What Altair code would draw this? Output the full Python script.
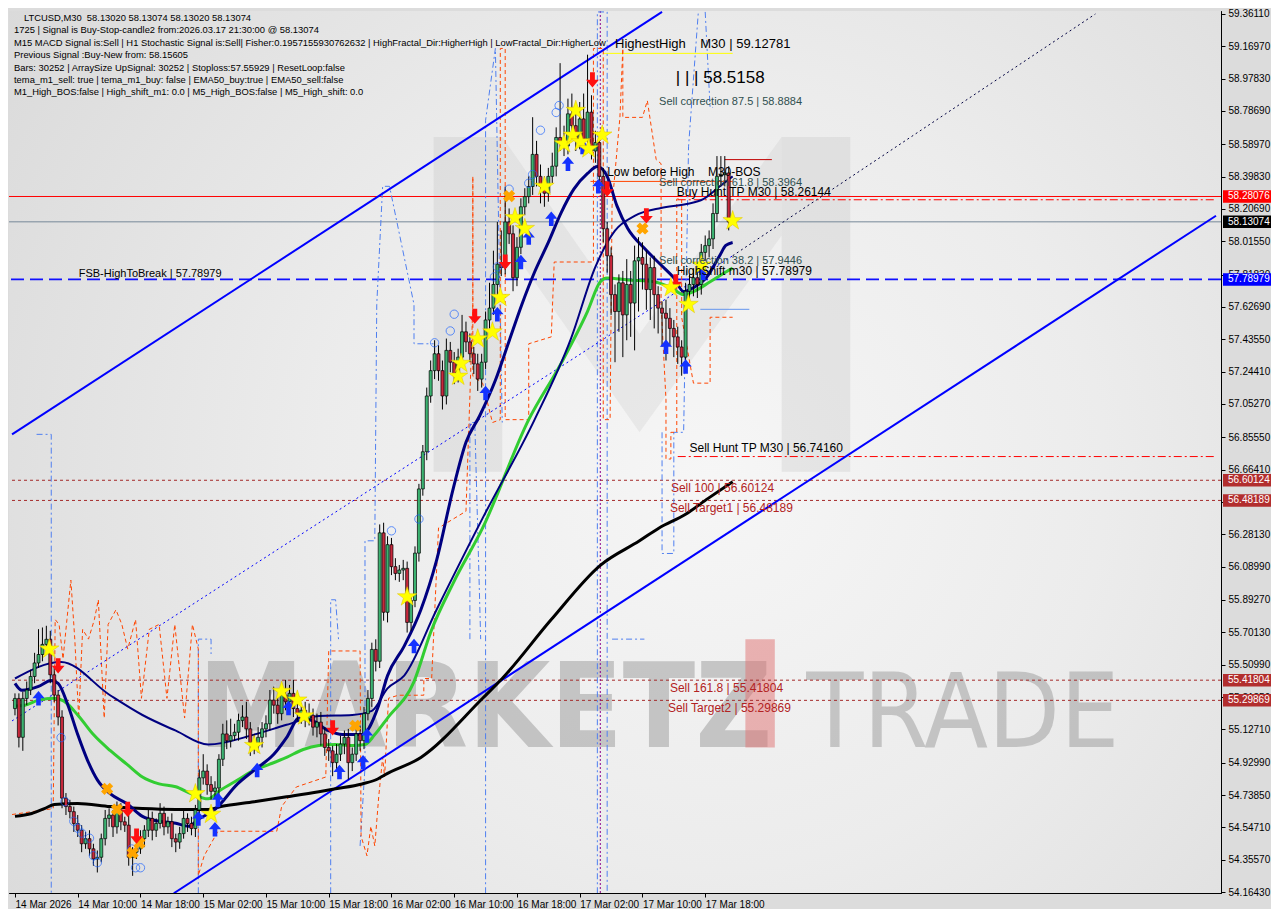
import altair as alt
import pandas as pd
import numpy as np

W, H = 1212, 882
T0 = pd.Timestamp("2026-03-14 02:00:00")
X_DOM = [alt.DateTime(year=2026, month=3, date=14, hours=1, minutes=52, seconds=30),
         alt.DateTime(year=2026, month=3, date=20, hours=11, minutes=7, seconds=30)]
Y_DOM = [54.1585, 59.3786]

# ---------------- candles (M30 bars from 14 Mar 02:00) ----------------
closes = [
    55.31, 55.08, 55.31, 55.36, 55.44, 55.52, 55.57, 55.63, 55.66, 55.45,
    55.33, 55.20, 54.72, 54.67, 54.64, 54.57, 54.53, 54.45, 54.48, 54.42,
    54.36, 54.37, 54.48, 54.60, 54.62, 54.55, 54.65, 54.58, 54.56, 54.37,
    54.40, 54.42, 54.48, 54.53, 54.60, 54.53, 54.57, 54.63, 54.55, 54.58,
    54.48, 54.46, 54.51, 54.60, 54.57, 54.54, 54.65, 54.84, 54.88, 54.80,
    54.76, 54.78, 54.95, 55.10, 55.06, 55.09, 55.11, 55.18, 55.20, 55.13,
    55.05, 55.03, 55.08, 55.13, 55.16, 55.30, 55.27, 55.22, 55.33, 55.29,
    55.34, 55.25, 55.22, 55.24, 55.19, 55.21, 55.14, 55.17, 55.10, 55.02,
    55.00, 54.93, 54.98, 55.04, 55.08, 54.93, 54.98, 55.10, 55.06, 55.22,
    55.31, 55.60, 55.53, 56.29, 55.82, 56.22, 56.09, 56.05, 56.07, 56.08,
    55.76, 55.89, 56.17, 56.55, 56.77, 57.10, 57.25, 57.35, 57.25, 57.10,
    57.37, 57.30, 57.22, 57.33, 57.48, 57.42, 57.35, 57.29, 57.20, 57.30,
    57.55, 57.62, 57.76, 57.88, 57.86, 58.13, 58.06, 57.80, 57.98, 58.22,
    58.28, 58.34, 58.53, 58.40, 58.34, 58.30, 58.40, 58.46, 58.63, 58.60,
    58.58, 58.77, 58.70, 58.62, 58.74, 58.62, 58.78, 58.55, 58.60, 58.40,
    58.09, 57.93, 57.70, 57.60, 57.77, 57.58, 57.76, 57.65, 57.90, 57.92,
    57.88, 57.73, 57.86, 57.70, 57.62, 57.59, 57.56, 57.50, 57.45, 57.39,
    57.33, 57.72, 57.76, 57.80, 57.76, 57.95, 57.99, 58.03, 58.18, 58.40,
    58.41, 58.42, 58.13,
]
first_open = 55.25
wick_up = [
    0.03, 0.03, 0.04, 0.05, 0.04, 0.06, 0.15, 0.10, 0.08, 0.05,
    0.04, 0.03, 0.04, 0.03, 0.04, 0.03, 0.05, 0.03, 0.04, 0.05,
    0.03, 0.04, 0.03, 0.05, 0.04, 0.03, 0.05, 0.04, 0.03, 0.06,
    0.03, 0.04, 0.05, 0.03, 0.05, 0.04, 0.03, 0.06, 0.04, 0.03,
    0.05, 0.03, 0.04, 0.05, 0.03, 0.04, 0.03, 0.05, 0.10, 0.04,
    0.05, 0.04, 0.03, 0.06, 0.08, 0.10, 0.05, 0.04, 0.07, 0.09,
    0.04, 0.05, 0.06, 0.04, 0.05, 0.06, 0.08, 0.05, 0.07, 0.09,
    0.05, 0.08, 0.06, 0.04, 0.05, 0.07, 0.04, 0.05, 0.06, 0.04,
    0.05, 0.03, 0.06, 0.05, 0.04, 0.05, 0.04, 0.06, 0.05, 0.04,
    0.05, 0.04, 0.06, 0.05, 0.06, 0.05, 0.04, 0.05, 0.03, 0.05,
    0.04, 0.03, 0.04, 0.03, 0.04, 0.05, 0.06, 0.08, 0.05, 0.06,
    0.07, 0.05, 0.06, 0.05, 0.10, 0.06, 0.05, 0.04, 0.06, 0.05,
    0.05, 0.15, 0.20, 0.25, 0.20, 0.21, 0.08, 0.05, 0.06, 0.05,
    0.05, 0.06, 0.22, 0.08, 0.07, 0.06, 0.05, 0.08, 0.06, 0.44,
    0.10, 0.09, 0.12, 0.08, 0.10, 0.15, 0.34, 0.10, 0.07, 0.06,
    0.05, 0.04, 0.05, 0.06, 0.05, 0.07, 0.15, 0.08, 0.09, 0.12,
    0.09, 0.08, 0.06, 0.07, 0.05, 0.04, 0.08, 0.06, 0.05, 0.06,
    0.04, 0.05, 0.06, 0.05, 0.07, 0.05, 0.06, 0.05, 0.06, 0.12,
    0.11, 0.10, 0.04,
]
wick_down = [
    0.04, 0.06, 0.08, 0.04, 0.03, 0.04, 0.03, 0.04, 0.03, 0.05,
    0.04, 0.05, 0.06, 0.05, 0.04, 0.05, 0.04, 0.05, 0.03, 0.04,
    0.04, 0.08, 0.03, 0.04, 0.05, 0.06, 0.04, 0.05, 0.04, 0.05,
    0.11, 0.04, 0.03, 0.05, 0.04, 0.06, 0.04, 0.03, 0.05, 0.04,
    0.05, 0.06, 0.04, 0.03, 0.05, 0.04, 0.05, 0.03, 0.04, 0.06,
    0.05, 0.04, 0.06, 0.04, 0.05, 0.04, 0.03, 0.05, 0.04, 0.06,
    0.08, 0.05, 0.04, 0.06, 0.05, 0.04, 0.05, 0.06, 0.04, 0.05,
    0.06, 0.05, 0.04, 0.06, 0.05, 0.04, 0.05, 0.06, 0.07, 0.05,
    0.06, 0.08, 0.05, 0.04, 0.06, 0.10, 0.05, 0.04, 0.06, 0.05,
    0.04, 0.05, 0.06, 0.04, 0.05, 0.06, 0.05, 0.04, 0.05, 0.06,
    0.06, 0.05, 0.04, 0.05, 0.04, 0.05, 0.04, 0.05, 0.06, 0.08,
    0.05, 0.06, 0.05, 0.04, 0.05, 0.06, 0.05, 0.06, 0.07, 0.05,
    0.04, 0.05, 0.04, 0.06, 0.05, 0.04, 0.06, 0.08, 0.05, 0.04,
    0.05, 0.04, 0.05, 0.06, 0.10, 0.08, 0.05, 0.04, 0.06, 0.05,
    0.06, 0.05, 0.08, 0.07, 0.06, 0.05, 0.06, 0.05, 0.07, 0.06,
    0.08, 0.10, 0.12, 0.30, 0.12, 0.25, 0.15, 0.20, 0.28, 0.30,
    0.15, 0.12, 0.18, 0.20, 0.15, 0.20, 0.25, 0.10, 0.12, 0.10,
    0.11, 0.06, 0.05, 0.07, 0.08, 0.06, 0.05, 0.07, 0.06, 0.05,
    0.06, 0.07, 0.05,
]

# ---------------- moving averages: (bar index, price) ----------------
ema_fast_k = [0, 1.75, 6, 9.25, 11, 13.5, 16, 18.5, 21, 24.25, 28.5, 32.5, 36.75, 41, 44.25, 46.75, 51,
              56.75, 61, 66, 69.25, 72.5, 76, 80, 83.5, 88.5, 92.5, 95, 99.25, 103.5, 107.5, 111.75,
              115, 118.5, 122.5, 126, 129.25, 132.5, 136, 139.25, 142.5, 146, 148.5, 151, 153.5,
              156.25, 160.5, 164.75, 168, 170.5, 173, 176.25, 179.75, 181.25, 183]
ema_fast_p = [55.399, 55.358, 55.381, 55.416, 55.399, 55.270, 55.096, 54.944, 54.828, 54.746, 54.688,
              54.612, 54.583, 54.571, 54.553, 54.594, 54.653, 54.804, 54.886, 54.979, 55.078, 55.194,
              55.177, 55.119, 55.096, 55.096, 55.253, 55.445, 55.620, 55.835, 56.127, 56.552, 56.826,
              56.983, 57.193, 57.426, 57.642, 57.834, 58.009, 58.184, 58.324, 58.417, 58.458, 58.400,
              58.225, 58.091, 57.974, 57.875, 57.799, 57.718, 57.741, 57.799, 57.933, 57.991, 58.009]
ema_slow_k = [0, 11.75, 24.25, 32.5, 41, 49.25, 61, 69.25, 77.5, 86, 91, 95, 99.25, 107.5, 119.25,
              132.5, 141.75, 148, 153, 158, 164.75, 171.25, 175.5, 179.75, 183]
ema_slow_p = [55.428, 55.526, 55.329, 55.212, 55.119, 55.037, 55.096, 55.154, 55.206, 55.212, 55.236,
              55.370, 55.445, 55.835, 56.377, 56.960, 57.438, 57.864, 58.079, 58.166, 58.213, 58.236,
              58.265, 58.341, 58.400]
ema_green_k = [0, 2.5, 6, 10, 12.5, 16, 20, 24.25, 28.5, 32.5, 36.75, 41, 45, 49.25, 52.5, 56.75, 61,
               65, 69.25, 73.5, 77.5, 81.75, 86, 89.25, 91.75, 95, 101.75, 106, 111.75, 119.25, 131,
               139.25, 146, 149.25, 151, 156.25, 163, 167.25, 170.5, 173, 177.25, 181.25, 183]
ema_green_p = [55.265, 55.270, 55.300, 55.311, 55.294, 55.212, 55.096, 55.002, 54.921, 54.845, 54.804,
               54.787, 54.746, 54.716, 54.769, 54.827, 54.886, 54.921, 54.961, 55.008, 55.031, 55.037,
               55.031, 55.037, 55.096, 55.194, 55.410, 55.702, 55.993, 56.319, 56.960, 57.293, 57.601,
               57.776, 57.799, 57.787, 57.776, 57.741, 57.700, 57.718, 57.776, 57.834, 57.857]
ema_black_k = [0, 4.25, 7.5, 10, 16, 24.25, 32.5, 41, 49.25, 52.5, 61, 69.25, 77.5, 81.75, 88.5, 92.5,
               94.25, 103.5, 119.25, 124.25, 136.75, 149.25, 159.25, 164.25, 171, 176.75, 183]
ema_black_p = [54.612, 54.629, 54.658, 54.682, 54.688, 54.670, 54.658, 54.653, 54.653, 54.670, 54.699,
               54.728, 54.758, 54.775, 54.804, 54.833, 54.857, 54.961, 55.311, 55.428, 55.777, 56.098,
               56.243, 56.319, 56.400, 56.494, 56.593]

# ---------------- channel ----------------
chan_up_k, chan_up_p = [-0.75, 165.0], [56.873, 59.373]
chan_lo_k, chan_lo_p = [40.5, 306.25], [54.157, 58.167]
mid_blue_k, mid_blue_p = [-0.75, 183.0], [55.177, 57.930]
mid_dark_k, mid_dark_p = [183.0, 275.5], [57.930, 59.361]

# ---------------- level lines ----------------
lvl_red = 58.28076
lvl_last = 58.13074
lvl_blue = 57.78979
lvl_buy_hunt = 58.26144
lvl_sell_hunt = 56.74160
lvl_brown = [56.60124, 56.48189, 55.41804, 55.29869]
highest_high = 59.12781
low_before_high = 58.370
bos_level = 58.499
shift_box = 57.613

# ---------------- indicator step lines ----------------
orange_k = [-0.75, 9.75, 10.25, 11.25, 12.25, 13.25, 14.25, 15.25, 16.25, 17.25, 18.75, 20.25, 21.25,
            22.75, 23.75, 25.75, 27.25, 28.75, 30.75, 32.25, 34.25, 36.75, 38.75, 40.75, 43.25, 45.25,
            46.75, 46.75, 48.25, 51.75, 66.75, 68, 71.75, 79.25, 80, 88, 88.25, 89.75, 90.75, 91.75,
            92.75, 93.75, 94.25, 95.25, 97.75, 104.25, 104.25, 106.25, 108, 115, 116, 116.75, 116.75,
            116.75, 119.25, 121.75, 123.75, 123.75, 125, 125, 131, 131, 136.75, 137.5, 147.5, 147.5,
            150, 150, 151.75, 152.25, 154.25, 155, 155, 160, 161.25, 163.5, 164.75, 164.75, 166, 166,
            167.25, 167.25, 168.75, 168.75, 170, 170, 173, 177.25, 177.25, 183]
orange_p = [54.623, 54.658, 55.777, 55.748, 55.544, 55.777, 56.010, 55.661, 55.194, 55.719, 55.661,
            55.777, 55.894, 55.194, 55.748, 55.835, 55.748, 55.602, 55.777, 55.311, 55.719, 55.748,
            55.311, 55.748, 55.194, 55.748, 55.602, 54.262, 54.379, 54.524, 54.524, 54.670, 54.786,
            54.845, 55.591, 55.591, 54.495, 54.379, 54.553, 54.437, 54.728, 54.961, 54.845, 55.311,
            55.329, 55.329, 55.428, 55.428, 56.319, 56.418, 57.100, 57.642, 58.400, 57.217, 57.176,
            56.943, 56.960, 59.157, 59.157, 56.960, 56.960, 57.409, 57.450, 57.893, 57.893, 59.157,
            59.157, 56.960, 56.960, 58.225, 58.749, 59.157, 58.749, 58.749, 58.848, 58.499, 58.475,
            57.642, 57.077, 56.727, 56.727, 56.885, 56.885, 58.266, 58.266, 57.566, 57.176, 57.176,
            57.566, 57.566]
blue_seg = [1, 1, 1, 2, 2, 2, 2, 3, 3, 3, 3, 4, 4, 4, 4, 4, 4, 4, 4, 4, 4, 5, 5, 5, 5, 6, 6, 6, 6,
            7, 7, 7, 7, 8, 8, 9, 9, 9, 9, 9, 9, 9, 10, 10, 10]
blue_k = [5.5, 9.25, 9.25, 46.75, 46.75, 50, 50, 80.5, 80.5, 81.75, 82.5, 88, 89.25, 89.25, 91.75,
          92.25, 93.75, 95.5, 101.75, 101.75, 106.75, 116, 116, 117.25, 118.75, 120, 120, 122.5,
          124.25, 148.5, 148.5, 151, 151, 152.25, 160.5, 165, 165, 168, 168, 170.5, 171.75, 174.25,
          176, 177.25, 178]
blue_p = [56.873, 56.873, 54.157, 54.157, 55.661, 55.661, 55.573, 54.157, 55.894, 55.894, 55.661,
          54.437, 54.903, 56.243, 56.243, 57.642, 58.341, 58.341, 57.642, 57.409, 57.409, 55.661,
          56.943, 56.943, 55.661, 54.157, 58.732, 59.157, 56.943, 54.157, 59.373, 59.373, 54.157,
          55.661, 55.661, 56.885, 56.168, 56.168, 56.885, 56.885, 58.575, 59.373, 59.373, 58.808,
          58.808]
session_k = 149.25

# ---------------- signal markers ----------------
star_k = [8.75, 46, 50, 61, 68, 72, 73.75, 100, 113, 113.75, 118, 121.75, 123.75, 127.5, 130, 135,
          140, 142.25, 143, 144.25, 146.25, 149.75, 167.25, 171.75, 175, 183]
star_p = [55.602, 54.746, 54.624, 55.031, 55.352, 55.300, 55.206, 55.911, 57.217, 57.293, 57.438,
          57.479, 57.683, 58.155, 58.091, 58.341, 58.592, 58.644, 58.790, 58.604, 58.563, 58.644,
          57.741, 57.642, 57.875, 58.137]
up_k = [6, 46.75, 51, 51.75, 61.75, 69.75, 82.75, 88.75, 89.75, 101.75, 120, 123, 129, 131, 136.75,
        141, 144.75, 148.75, 166, 171, 175.5]
up_p = [55.311, 54.600, 54.536, 54.711, 54.886, 55.253, 54.874, 54.932, 55.090, 55.620, 57.118,
        57.584, 57.893, 58.038, 58.149, 58.475, 58.574, 58.341, 57.391, 57.275, 57.829]
down_k = [11, 28.75, 31, 81, 117.25, 125, 147.25, 151, 161, 168.5]
down_p = [55.503, 54.653, 54.495, 55.136, 57.572, 57.893, 58.971, 58.324, 58.166, 57.776]
cross_k = [23.5, 26, 30, 31.75, 86.75, 126, 160]
cross_p = [54.775, 54.653, 54.396, 54.454, 55.148, 58.283, 58.091]
circle_k = [11.75, 12.75, 15, 16, 17, 19, 20, 21, 29.75, 30.75, 32, 96, 103, 107, 111, 112, 122.25,
            123, 126, 131, 132, 134, 138, 138.75]
circle_p = [55.078, 54.699, 54.583, 54.542, 54.513, 54.483, 54.379, 54.338, 54.419, 54.308, 54.308,
            56.302, 56.372, 57.415, 57.485, 57.584, 57.805, 57.864, 58.324, 58.359, 58.411, 58.673,
            58.778, 58.819]

# ---------------- background logo (bar index / price of its corners) ----------------
logo_leg_k = [[106.75, 124.25], [195.5, 213.0]]
logo_leg_p = [56.651, 58.633]
logo_v_k = [124.25, 159.25, 195.5]
logo_v_top = [58.633, 57.467, 58.633]
logo_v_bot = [58.050, 56.885, 58.050]

# ---------------- texts ----------------
NB = "\u00a0"
info_lines = [
    "LTCUSD,M30  58.13020 58.13074 58.13020 58.13074",
    "1725 | Signal is Buy-Stop-candle2 from:2026.03.17 21:30:00 @ 58.13074",
    "M15 MACD Signal is:Sell | H1 Stochastic Signal is:Sell| Fisher:0.1957155930762632 | HighFractal_Dir:HigherHigh | LowFractal_Dir:HigherLow",
    "Previous Signal :Buy-New from: 58.15605",
    "Bars: 30252 | ArraySize UpSignal: 30252 | Stoploss:57.55929 | ResetLoop:false",
    "tema_m1_sell: true | tema_m1_buy: false | EMA50_buy:true | EMA50_sell:false",
    "M1_High_BOS:false | High_shift_m1: 0.0 | M5_High_BOS:false | M5_High_shift: 0.0",
]
ann_text = ["HighestHigh" + NB * 4 + "M30 | 59.12781",
            "|" + NB + "|" + NB + "| 58.5158",
            "Sell correction 87.5 | 58.8884",
            "Low before High" + NB * 4 + "M30-BOS",
            "Sell correction 61.8 | 58.3964", "Buy Hunt TP M30 | 58.26144",
            "Sell correction 38.2 | 57.9446", "HighShift m30 | 57.78979", "FSB-HighToBreak | 57.78979",
            "Sell Hunt TP M30 | 56.74160", "Sell 100 | 56.60124", "Sell Target1 | 56.48189",
            "Sell 161.8 | 55.41804", "Sell Target2 | 55.29869"]
ann_k = [153, 168.5, 164.25, 151, 164.25, 168.75, 164.25, 168.75, 16.25, 172, 167.25, 167, 167, 166.5]
ann_p = [59.157, 58.953, 58.825, 58.400, 58.341, 58.283, 57.881, 57.817, 57.805, 56.768, 56.529, 56.412,
         55.346, 55.230]
ann_size = [13, 17, 11, 12, 11, 12, 11, 12, 11, 12, 12, 12, 12, 12]
ann_color = ["#000000", "#000000", "#2f4f4f", "#000000", "#2f4f4f", "#000000", "#2f4f4f", "#000000",
             "#000000", "#000000", "#b22222", "#b22222", "#b22222", "#b22222"]

tag_p = [58.28076, 58.13074, 57.78979, 56.60124, 56.48189, 55.41804, 55.29869]
tag_bg = ["#ff0000", "#000000", "#0000ff", "#b22e2e", "#b22e2e", "#b22e2e", "#b22e2e"]

y_ticks = [59.36110, 59.16970, 58.97830, 58.78690, 58.58970, 58.39830, 58.20690, 58.01550, 57.81830,
           57.62690, 57.43550, 57.24410, 57.05270, 56.85550, 56.66410, 56.47270, 56.28130, 56.08990,
           55.89270, 55.70130, 55.50990, 55.31850, 55.12710, 54.92990, 54.73850, 54.54710, 54.35570,
           54.16430]

FONT = "Liberation Sans"


def kt(k):
    return T0 + pd.to_timedelta(np.asarray(k, dtype=float) * 30, unit="m")


x_ticks = [alt.DateTime(year=2026, month=3, date=14, hours=2)] + [
    alt.DateTime(year=2026, month=3, date=d, hours=h)
    for d, h in [(14, 10), (14, 18), (15, 2), (15, 10), (15, 18), (16, 2), (16, 10), (16, 18),
                 (17, 2), (17, 10), (17, 18)]
]

xaxis = alt.Axis(values=x_ticks, orient="bottom",
                 labelExpr="datum.value < datetime(2026,2,14,5) ? '14 Mar 2026' : timeFormat(datum.value, '%d %b %H:%M')",
                 labelAlign="left", labelFont=FONT, labelFontSize=10, labelColor="#000000",
                 tickSize=4, tickColor="#000000", domainColor="#000000", labelPadding=2,
                 grid=False, title=None, labelOverlap=False, labelFlush=False)
yaxis = alt.Axis(values=y_ticks, format=".5f", orient="right", labelFont=FONT, labelFontSize=10,
                 labelColor="#000000", tickSize=4, tickColor="#000000", domainColor="#000000",
                 grid=False, title=None, labelOverlap=False, labelPadding=3, labelFlush=False)


def X(field="t"):
    return alt.X(f"{field}:T", scale=alt.Scale(domain=X_DOM), axis=xaxis, title=None)


def Y(field="p"):
    return alt.Y(f"{field}:Q", scale=alt.Scale(domain=Y_DOM), axis=yaxis, title=None)


# ---- data frames ----
n = len(closes)
opens = [first_open] + closes[:-1]
highs = [max(o, c) + u for o, c, u in zip(opens, closes, wick_up)]
lows = [min(o, c) - d for o, c, d in zip(opens, closes, wick_down)]
cdf = pd.DataFrame({"t": kt(range(n)), "o": opens, "c": closes, "h": highs, "l": lows})
up_bars = cdf[cdf["c"] >= cdf["o"]]
down_bars = cdf[cdf["c"] < cdf["o"]]


def line_df(ks, ps, seg=None):
    d = pd.DataFrame({"t": kt(ks), "p": ps, "i": range(len(ks))})
    d["seg"] = seg if seg is not None else 0
    return d


layers = []

# soft radial background of the chart window
bg_grad = alt.Gradient(gradient="radial", x1=0.58, y1=0.52, x2=0.58, y2=0.52, r1=0.0, r2=0.72,
                       stops=[alt.GradientStop(color="#f6f6f6", offset=0.0),
                              alt.GradientStop(color="#ececec", offset=0.45),
                              alt.GradientStop(color="#d9d9d9", offset=1.0)])
layers.append(alt.Chart(pd.DataFrame({"t": kt([0])})).mark_rect(color=bg_grad)
              .encode(x=alt.value(0), x2=alt.value(W), y=alt.value(0), y2=alt.value(H)))

# big "M" logo behind the candles
leg_df = pd.DataFrame({"t": kt([a for a, b in logo_leg_k]), "t2": kt([b for a, b in logo_leg_k]),
                       "p": [logo_leg_p[0]] * 2, "p2": [logo_leg_p[1]] * 2})
layers.append(alt.Chart(leg_df).mark_rect(color="#bdbdbd", opacity=0.28).encode(x=X(), x2="t2:T", y=Y(), y2="p2:Q"))
v_df = pd.DataFrame({"t": kt(logo_v_k), "p": logo_v_top, "p2": logo_v_bot})
layers.append(alt.Chart(v_df).mark_area(color="#bdbdbd", opacity=0.22).encode(x=X(), y=Y(), y2="p2:Q"))

# watermark
WM_FONT = "DejaVu Sans Condensed, Liberation Sans, sans-serif"
layers.append(alt.Chart(pd.DataFrame({"t": kt([46.75]), "p": [55.02], "txt": ["MARKETZ"]}))
              .mark_text(align="left", baseline="alphabetic", font=WM_FONT, fontSize=118, fontWeight="bold",
                         color="#9a9a9a", opacity=0.5)
              .encode(x=X(), y=Y(), text="txt:N"))
layers.append(alt.Chart(pd.DataFrame({"t": kt([201.75]), "p": [55.02], "txt": ["TRADE"]}))
              .mark_text(align="left", baseline="alphabetic", font=WM_FONT, fontSize=104, fontWeight="normal",
                         color="#9a9a9a", opacity=0.5)
              .encode(x=X(), y=Y(), text="txt:N"))
wr = pd.DataFrame({"t": kt([186.25]), "t2": kt([193.75]), "p": [55.661], "p2": [55.02]})
layers.append(alt.Chart(wr).mark_rect(color="#e07070", opacity=0.5).encode(x=X(), x2="t2:T", y=Y(), y2="p2:Q"))

# full-width level lines
layers.append(alt.Chart(pd.DataFrame({"p": lvl_brown})).mark_rule(color="#a52a2a", strokeDash=[3, 3], strokeWidth=1)
              .encode(y=Y()))
layers.append(alt.Chart(pd.DataFrame({"p": [lvl_red]})).mark_rule(color="#ff0000", strokeWidth=1).encode(y=Y()))
layers.append(alt.Chart(pd.DataFrame({"p": [lvl_last]})).mark_rule(color="#778899", strokeWidth=1).encode(y=Y()))
layers.append(alt.Chart(pd.DataFrame({"p": [lvl_blue]})).mark_rule(color="#1010ff", strokeDash=[13, 6], strokeWidth=1.7,
                                                                    opacity=1)
              .encode(y=Y()))

# partial level lines
part = pd.DataFrame({
    "t": kt([169, 169, 150, 146.75, 181, 174.75]),
    "t2": kt([306.25, 306.25, 183, 183, 193, 187.25]),
    "p": [lvl_buy_hunt, lvl_sell_hunt, highest_high, low_before_high, bos_level, shift_box],
    "kind": ["hunt", "hunt", "hh", "lbh", "bos", "box"],
})
layers.append(alt.Chart(part[part.kind == "hunt"]).mark_rule(color="#ff0000", strokeDash=[8, 3, 2, 3], strokeWidth=1, clip=True)
              .encode(x=X(), x2="t2:T", y=Y()))
layers.append(alt.Chart(part[part.kind == "hh"]).mark_rule(color="#ffff00", strokeWidth=1).encode(x=X(), x2="t2:T", y=Y()))
layers.append(alt.Chart(part[part.kind == "lbh"]).mark_rule(color="#ff4500", strokeWidth=1).encode(x=X(), x2="t2:T", y=Y()))
layers.append(alt.Chart(part[part.kind == "bos"]).mark_rule(color="#c00000", strokeWidth=1).encode(x=X(), x2="t2:T", y=Y()))
layers.append(alt.Chart(part[part.kind == "box"]).mark_rule(color="#6495ed", strokeWidth=1).encode(x=X(), x2="t2:T", y=Y()))

# session separator
layers.append(alt.Chart(pd.DataFrame({"t": kt([session_k])})).mark_rule(color="#8b008b", strokeDash=[2, 2], strokeWidth=1)
              .encode(x=X()))

# indicator step lines
layers.append(alt.Chart(line_df(blue_k, blue_p, blue_seg)).mark_line(color="#4f7ff0", strokeDash=[6, 3, 2, 3], strokeWidth=1, clip=True)
              .encode(x=X(), y=Y(), detail="seg:N", order="i:Q"))
layers.append(alt.Chart(line_df(orange_k, orange_p)).mark_line(color="#ff4500", strokeDash=[4, 3], strokeWidth=1, clip=True)
              .encode(x=X(), y=Y(), order="i:Q"))

# channel
layers.append(alt.Chart(line_df(chan_up_k, chan_up_p)).mark_line(color="#0000ff", strokeWidth=2, clip=True).encode(x=X(), y=Y(), order="i:Q"))
layers.append(alt.Chart(line_df(chan_lo_k, chan_lo_p)).mark_line(color="#0000ff", strokeWidth=2, clip=True).encode(x=X(), y=Y(), order="i:Q"))
layers.append(alt.Chart(line_df(mid_blue_k, mid_blue_p)).mark_line(color="#0000ff", strokeDash=[2, 3], strokeWidth=1, clip=True)
              .encode(x=X(), y=Y(), order="i:Q"))
layers.append(alt.Chart(line_df(mid_dark_k, mid_dark_p)).mark_line(color="#000040", strokeDash=[2, 3], strokeWidth=1, clip=True)
              .encode(x=X(), y=Y(), order="i:Q"))

# moving averages
layers.append(alt.Chart(line_df(ema_black_k, ema_black_p)).mark_line(color="#000000", strokeWidth=3, interpolate="monotone")
              .encode(x=X(), y=Y(), order="i:Q"))
layers.append(alt.Chart(line_df(ema_green_k, ema_green_p)).mark_line(color="#32cd32", strokeWidth=3, interpolate="monotone")
              .encode(x=X(), y=Y(), order="i:Q"))
layers.append(alt.Chart(line_df(ema_slow_k, ema_slow_p)).mark_line(color="#000080", strokeWidth=2, interpolate="monotone")
              .encode(x=X(), y=Y(), order="i:Q"))
layers.append(alt.Chart(line_df(ema_fast_k, ema_fast_p)).mark_line(color="#000080", strokeWidth=3, interpolate="monotone")
              .encode(x=X(), y=Y(), order="i:Q"))

# candles
layers.append(alt.Chart(cdf).mark_rule(color="#000000", strokeWidth=1).encode(x=X(), y=Y("l"), y2="h:Q"))
layers.append(alt.Chart(up_bars).mark_bar(size=3, stroke="#000000", strokeWidth=0.7, fill="#3cb371")
              .encode(x=X(), y=Y("o"), y2="c:Q"))
layers.append(alt.Chart(down_bars).mark_bar(size=3, stroke="#000000", strokeWidth=0.7, fill="#c8283c")
              .encode(x=X(), y=Y("o"), y2="c:Q"))

# markers
UP = "M0,-1 L0.85,0 L0.32,0 L0.32,1 L-0.32,1 L-0.32,0 L-0.85,0 Z"
DOWN = "M0,1 L0.85,0 L0.32,0 L0.32,-1 L-0.32,-1 L-0.32,0 L-0.85,0 Z"
STAR = ("M0,-1 L0.2234,-0.3074 L0.951,-0.309 L0.3614,0.1174 L0.588,0.809 L0,0.38 "
        "L-0.588,0.809 L-0.3614,0.1174 L-0.951,-0.309 L-0.2234,-0.3074 Z")
layers.append(alt.Chart(line_df(circle_k, circle_p)).mark_point(shape="circle", filled=False, color="#1e64ff", size=70, strokeWidth=1)
              .encode(x=X(), y=Y()))
layers.append(alt.Chart(line_df(cross_k, cross_p)).mark_point(shape="cross", filled=True, color="#ffa500", size=150, angle=45, opacity=1)
              .encode(x=X(), y=Y()))
layers.append(alt.Chart(line_df(up_k, up_p)).mark_point(shape=UP, filled=True, color="#1432ff", size=210, opacity=1)
              .encode(x=X(), y=Y()))
layers.append(alt.Chart(line_df(down_k, down_p)).mark_point(shape=DOWN, filled=True, color="#ff1010", size=230, opacity=1)
              .encode(x=X(), y=Y()))
layers.append(alt.Chart(line_df(star_k, star_p)).mark_point(shape=STAR, filled=True, fill="#ffff00", size=420, opacity=1,
                                                             stroke="#e0c000", strokeWidth=0.5)
              .encode(x=X(), y=Y()))

# annotations in data space
adf = pd.DataFrame({"t": kt(ann_k), "p": ann_p, "txt": ann_text, "fs": ann_size, "col": ann_color})
for (fs, col), sub in adf.groupby(["fs", "col"]):
    layers.append(alt.Chart(sub[["t", "p", "txt"]]).mark_text(align="left", baseline="alphabetic", font=FONT,
                                                              fontSize=int(fs), color=col)
                  .encode(x=X(), y=Y(), text="txt:N"))

# info block (screen anchored, top-left corner of the chart window)
for r, line in enumerate(info_lines):
    layers.append(alt.Chart(pd.DataFrame({"t": kt([0])})).mark_text(
        align="left", baseline="middle", font=FONT, fontSize=9.4, color="#000000", text=line.replace("  ", NB * 2))
        .encode(x=alt.value(15 if r == 0 else 5), y=alt.value(7 + 12.4 * r)))

# price tags on the right axis
for v, bg in zip(tag_p, tag_bg):
    tdf = pd.DataFrame({"p": [v + 0.037], "p2": [v - 0.037], "pc": [v], "txt": [f"{v:.5f}"]})
    layers.append(alt.Chart(tdf).mark_rect(color=bg).encode(x=alt.value(W + 2), x2=alt.value(W + 50), y=Y(), y2="p2:Q"))
    layers.append(alt.Chart(tdf).mark_text(align="left", baseline="middle", font=FONT, fontSize=10, color="#ffffff")
                  .encode(x=alt.value(W + 7), y=Y("pc"), text="txt:N"))

chart = alt.layer(*layers).properties(width=W, height=H, background="#dcdcdc", padding=0).configure_view(
    fill="#dedede", stroke="#000000", strokeWidth=1)

chart.save("out.html", embed_options={"renderer": "svg", "actions": False})
